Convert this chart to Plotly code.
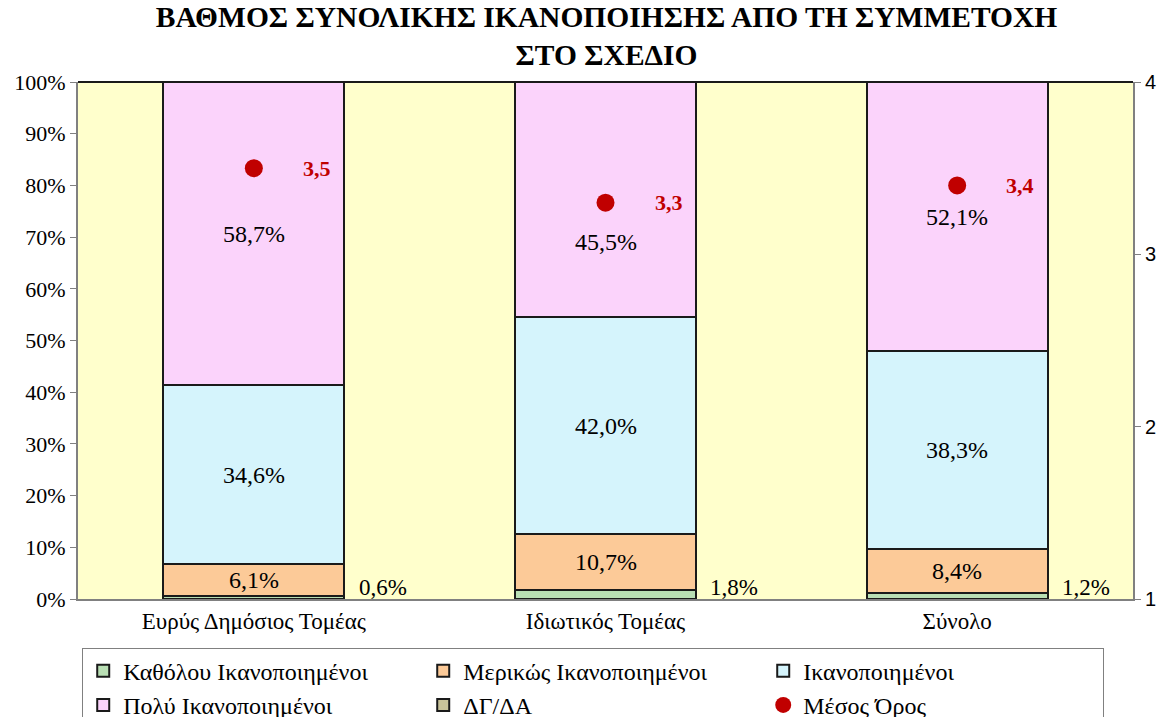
import plotly.graph_objects as go

CATEGORIES = ["Ευρύς Δημόσιος Τομέας", "Ιδιωτικός Τομέας", "Σύνολο"]
KATHOLOU = [0.6, 1.8, 1.2]
MERIKOS = [6.1, 10.7, 8.4]
IKANOP = [34.6, 42.0, 38.3]
POLY = [58.7, 45.5, 52.1]
DGDA = [0.0, 0.0, 0.0]
MEAN = [3.5, 3.3, 3.4]

SERIF = "Liberation Serif, Times New Roman, serif"
BG = "#FFFFCC"
OUTLINE = "#1a1a1a"
RED = "#C00000"

x = list(range(len(CATEGORIES)))


def pct(v):
    return f"{v:.1f}%".replace(".", ",")


fig = go.Figure()

series = [
    ("Καθόλου Ικανοποιημένοι", KATHOLOU, "#B9DFB4"),
    ("Μερικώς Ικανοποιημένοι", MERIKOS, "#FCCA98"),
    ("Ικανοποιημένοι", IKANOP, "#D5F4FC"),
    ("Πολύ Ικανοποιημένοι", POLY, "#FBD3FB"),
    ("ΔΓ/ΔΑ", DGDA, "#C9C39A"),
]
for name, vals, color in series:
    fig.add_trace(go.Bar(
        x=x, y=[v / 100 for v in vals], name=name,
        marker=dict(color=color, line=dict(color=OUTLINE, width=2)),
        width=0.515, hoverinfo="skip",
    ))

# segment labels at the middle of each segment
labelled = [MERIKOS, IKANOP, POLY]
base = list(KATHOLOU)
for vals in labelled:
    for i, v in enumerate(vals):
        shift = -42 if (vals is POLY and i == 1) else 0
        fig.add_annotation(
            x=i, y=(base[i] + v / 2) / 100, text=pct(v), showarrow=False,
            yshift=shift, font=dict(family=SERIF, size=24, color="black"),
        )
        base[i] += v

# small "Καθόλου" labels beside the bars
for i, v in enumerate(KATHOLOU):
    fig.add_annotation(
        x=i + 0.366, y=0.022, text=pct(v), showarrow=False,
        font=dict(family=SERIF, size=23, color="black"),
    )

fig.add_trace(go.Scatter(
    x=x, y=MEAN, yaxis="y2", mode="markers", name="Μέσος Όρος",
    marker=dict(color=RED, size=18, symbol="circle"),
    hoverinfo="skip",
))
for i, v in enumerate(MEAN):
    fig.add_annotation(
        x=i + 0.18, y=v, yref="y2", text=f"{v:.1f}".replace(".", ","),
        showarrow=False,
        font=dict(family=SERIF, size=22, color=RED, weight="bold"),
    )

fig.add_shape(type="line", xref="paper", yref="paper", x0=0, x1=1, y0=1, y1=1,
              line=dict(color=OUTLINE, width=2))

fig.update_layout(
    width=1162, height=717,
    barmode="stack",
    paper_bgcolor="white", plot_bgcolor=BG,
    margin=dict(l=78, r=29, t=82, b=118, autoexpand=False),
    title=dict(
        text="ΒΑΘΜΟΣ ΣΥΝΟΛΙΚΗΣ ΙΚΑΝΟΠΟΙΗΣΗΣ ΑΠΟ ΤΗ ΣΥΜΜΕΤΟΧΗ<br>ΣΤΟ ΣΧΕΔΙΟ",
        x=0.522, xanchor="center", y=0.963, yanchor="top",
        font=dict(family=SERIF, size=29.5, color="black", weight="bold"),
    ),
    font=dict(family=SERIF, color="black"),
    xaxis=dict(
        tickmode="array", tickvals=x, ticktext=CATEGORIES, range=[-0.5, 2.5],
        showline=True, linecolor="#808080", linewidth=2, ticks="",
        tickfont=dict(family=SERIF, size=23), showgrid=False, automargin=False,
    ),
    yaxis=dict(
        range=[0, 1], dtick=0.1, tickformat=".0%", showgrid=False,
        showline=True, linecolor="#808080", linewidth=2,
        ticks="outside", ticklen=6, tickcolor="#808080",
        tickfont=dict(family=SERIF, size=22), zeroline=False, automargin=False,
    ),
    yaxis2=dict(
        range=[1, 4], dtick=1, overlaying="y", side="right", showgrid=False,
        showline=True, linecolor="#808080", linewidth=2,
        ticks="outside", ticklen=6, tickcolor="#808080",
        tickfont=dict(family="Liberation Sans, Arial, sans-serif", size=20),
        zeroline=False, automargin=False,
    ),
    legend=dict(
        orientation="h", x=0.004, xanchor="left", y=-0.094, yanchor="top",
        entrywidth=295, entrywidthmode="pixels",
        bordercolor="#808080", borderwidth=1, bgcolor="white",
        font=dict(family=SERIF, size=24), traceorder="normal",
        itemwidth=30,
    ),
    showlegend=True,
)

fig.write_html(
    "out.html",
    config={"displayModeBar": False},
    post_script="document.body.style.margin='0';",
)
